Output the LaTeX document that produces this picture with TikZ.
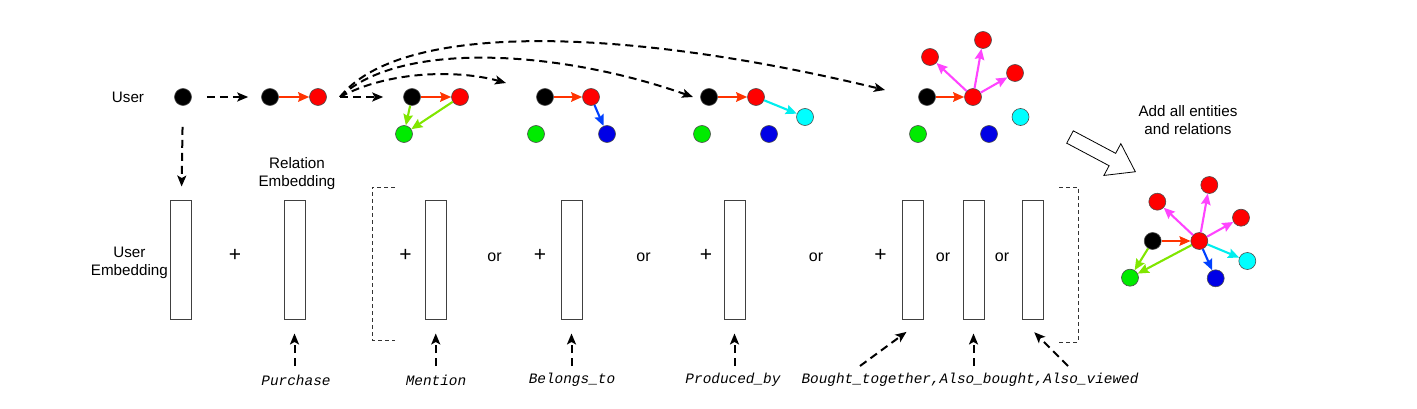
\documentclass[tikz,border=0pt]{standalone}
\usepackage{fontspec}
\setmainfont{Liberation Sans}
\setmonofont{Liberation Mono}
\usetikzlibrary{arrows.meta}
\definecolor{nred}{RGB}{255,0,0}
\definecolor{ngreen}{RGB}{0,235,0}
\definecolor{nblue}{RGB}{0,0,230}
\definecolor{ncyan}{RGB}{0,255,255}
\definecolor{ared}{RGB}{255,51,0}
\definecolor{agreen}{RGB}{128,230,0}
\definecolor{ablue}{RGB}{0,64,255}
\definecolor{acyan}{RGB}{0,238,238}
\definecolor{amag}{RGB}{255,68,255}
\tikzset{
  ent/.style={circle, draw=black!70, line width=0.6pt, minimum size=17pt, inner sep=0pt},
  blk/.style={ent, fill=black},
  rd/.style={ent, fill=nred},
  gr/.style={ent, fill=ngreen},
  bl/.style={ent, fill=nblue},
  cy/.style={ent, fill=ncyan},
  vec/.style={draw=black!75, line width=0.9pt, minimum width=21pt, minimum height=118.5pt, inner sep=0pt},
  dasharr/.style={line width=2pt, dash pattern=on 8pt off 5pt, -{Stealth[length=11pt,width=9pt,inset=2.5pt]}},
  rel/.style={line width=2.1pt, -{Stealth[length=11pt,width=9.5pt,inset=1.5pt]}},
  brk/.style={draw=black!80, line width=0.8pt, dash pattern=on 4pt off 3pt},
  lbl/.style={font=\fontsize{15.2}{18}\selectfont, align=center, inner sep=0pt},
  op/.style={font=\fontsize{16}{18}\selectfont, inner sep=0pt},
  plus/.style={font=\fontsize{21}{22}\selectfont, inner sep=0pt},
  mono/.style={font=\fontsize{14.4}{17}\selectfont\ttfamily\itshape, inner sep=0pt}
}
\begin{document}
\begin{tikzpicture}[x=1pt,y=-1pt]
\useasboundingbox (0,0) rectangle (1417,409);

% ---------- top row ----------
\node[lbl] (ulbl) at (128,97) {User};
\node[blk] (u0) at (183,97) {};
\node[blk] (a0) at (270,97) {};
\node[rd]  (a1) at (318,97) {};
\coordinate (fan) at (340,97);

% group 1
\node[blk] (g1b) at (412,97) {};
\node[rd]  (g1r) at (460,97) {};
\node[gr]  (g1g) at (404,134) {};
% group 2
\node[blk] (g2b) at (545,97) {};
\node[rd]  (g2r) at (591,97) {};
\node[gr]  (g2g) at (536,134) {};
\node[bl]  (g2u) at (607,134) {};
% group 3
\node[blk] (g3b) at (709,97) {};
\node[rd]  (g3r) at (756,97) {};
\node[cy]  (g3c) at (805,117) {};
\node[gr]  (g3g) at (702,134) {};
\node[bl]  (g3u) at (769,134) {};
% group 4
\node[blk] (g4b) at (927,97) {};
\node[rd]  (g4r) at (973,97) {};
\node[rd]  (g4r1) at (930,57) {};
\node[rd]  (g4r2) at (983,40) {};
\node[rd]  (g4r3) at (1015,73) {};
\node[cy]  (g4c) at (1020.5,117) {};
\node[gr]  (g4g) at (918,134) {};
\node[bl]  (g4u) at (989,134) {};

% relation arrows top
\draw[rel, ared] (a0) -- (a1);
\draw[rel, ared] (g1b) -- (g1r);
\draw[rel, agreen] (g1b) -- (g1g);
\draw[rel, agreen] (g1r) -- (g1g);
\draw[rel, ared] (g2b) -- (g2r);
\draw[rel, ablue] (g2r) -- (g2u);
\draw[rel, ared] (g3b) -- (g3r);
\draw[rel, acyan] (g3r) -- (g3c);
\draw[rel, ared] (g4b) -- (g4r);
\draw[rel, amag] (g4r) -- (g4r1);
\draw[rel, amag] (g4r) -- (g4r2);
\draw[rel, amag] (g4r) -- (g4r3);

% dashed arrows top
\draw[dasharr, shorten <=15pt, shorten >=13pt] (u0) -- (a0);
\coordinate (t1) at (506,83);
\coordinate (t2) at (693,97);
\coordinate (t3) at (885,90);
\draw[dasharr, shorten >=20pt] (fan) -- (g1b);
\draw[dasharr] (fan) .. controls (390,70) and (460,70) .. (t1);
\draw[dasharr] (fan) .. controls (400,40) and (560,50) .. (t2);
\draw[dasharr] (fan) .. controls (400,22) and (620,26) .. (t3);

% ---------- embeddings row ----------
\node[vec] (vu) at (180.5,259.75) {};
\node[vec] (vr) at (294.5,259.75) {};
\node[vec] (vm) at (435.75,259.75) {};
\node[vec] (vb) at (571.5,259.75) {};
\node[vec] (vp) at (734.5,259.75) {};
\node[vec] (v1) at (912.5,259.75) {};
\node[vec] (v2) at (973.5,259.75) {};
\node[vec] (v3) at (1032.5,259.75) {};

\node[lbl, anchor=east] (uemb) at (168,263) {User\\Embedding};
\node[lbl] (remb) at (297,174) {Relation\\Embedding};

\draw[dasharr, shorten <=21pt, shorten >=13.5pt] (u0) -- (vu);

\node[plus] (p1) at (235,255) {+};
\node[plus] (p2) at (405.5,255) {+};
\node[op] (o1) at (494.5,257) {or};
\node[plus] (p3) at (540,255) {+};
\node[op] (o2) at (643.5,257) {or};
\node[plus] (p4) at (706,255) {+};
\node[op] (o3) at (816,257) {or};
\node[plus] (p5) at (880.5,255) {+};
\node[op] (o4) at (943,257) {or};
\node[op] (o5) at (1002,257) {or};

% brackets
\draw[brk] (395,187) -- (372,187) -- (372,340) -- (395,340);
\draw[brk] (1059,187) -- (1078,187) -- (1078,342) -- (1059,342);

% ---------- bottom labels ----------
\node[mono] (lp) at (296,380) {Purchase};
\node[mono] (lm) at (436,380) {Mention};
\node[mono] (lb) at (572,380) {Belongs\_to};
\node[mono] (lpr) at (733,380) {Produced\_by};
\node[mono] (lbt) at (970,380) {Bought\_together,Also\_bought,Also\_viewed};

\coordinate (s1) at (294.5,366);
\coordinate (s2) at (435.75,366);
\coordinate (s3) at (571.5,366);
\coordinate (s4) at (734.5,366);
\coordinate (s5) at (860,366);
\coordinate (s6) at (973.5,366);
\coordinate (s7) at (1068,366);
\draw[dasharr, shorten >=14pt] (s1) -- (vr.south);
\draw[dasharr, shorten >=14pt] (s2) -- (vm.south);
\draw[dasharr, shorten >=14pt] (s3) -- (vb.south);
\draw[dasharr, shorten >=14pt] (s4) -- (vp.south);
\draw[dasharr, shorten >=21pt] (s5) -- (v1.south east);
\draw[dasharr, shorten >=14pt] (s6) -- (v2.south);
\draw[dasharr, shorten >=18pt] (s7) -- (v3.south west);

% ---------- hollow arrow + text ----------
\node[lbl] (addl) at (1188,120) {Add all entities\\and relations};
\begin{scope}[shift={(1070,137)}, rotate=-28]
  \draw[line width=0.8pt, fill=white] (0,7) -- (48,7) -- (48,18) -- (74,0) -- (48,-18) -- (48,-7) -- (0,-7) -- cycle;
\end{scope}

% ---------- final graph ----------
\node[blk] (fb) at (1152.7,241) {};
\node[rd]  (fr) at (1199.3,241) {};
\node[rd]  (fr1) at (1157.3,201.7) {};
\node[rd]  (fr2) at (1209.3,185) {};
\node[rd]  (fr3) at (1241,217.7) {};
\node[cy]  (fc) at (1247.3,261) {};
\node[gr]  (fg) at (1130,277.7) {};
\node[bl]  (fu) at (1215.7,278.3) {};
\draw[rel, ared] (fb) -- (fr);
\draw[rel, amag] (fr) -- (fr1);
\draw[rel, amag] (fr) -- (fr2);
\draw[rel, amag] (fr) -- (fr3);
\draw[rel, acyan] (fr) -- (fc);
\draw[rel, ablue] (fr) -- (fu);
\draw[rel, agreen] (fr) -- (fg);
\draw[rel, agreen] (fb) -- (fg);
\end{tikzpicture}
\end{document}
